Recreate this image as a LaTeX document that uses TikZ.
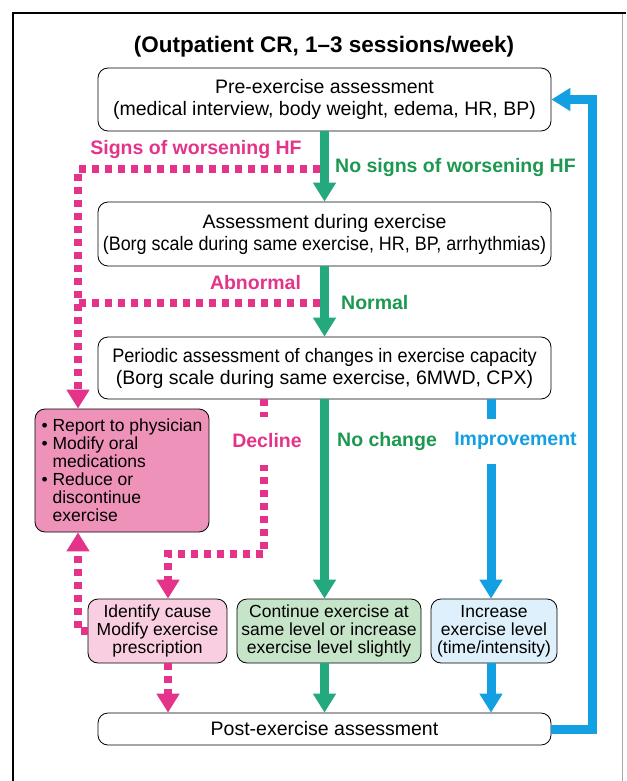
\documentclass[tikz,border=0pt]{standalone}
\usepackage{fontspec}
\setmainfont{Liberation Sans}
\usepackage{graphicx}
\usetikzlibrary{arrows.meta}
\definecolor{hfpink}{RGB}{228,52,138}
\definecolor{hfgreen}{RGB}{36,168,125}
\definecolor{hfgreentext}{RGB}{28,152,80}
\definecolor{hfblue}{RGB}{18,160,226}
\definecolor{reportfill}{RGB}{238,146,185}
\definecolor{causefill}{RGB}{250,206,225}
\definecolor{samefill}{RGB}{198,228,200}
\definecolor{upfill}{RGB}{222,240,251}
\newcommand\narrow[2]{\scalebox{#1}[1]{#2}}

\begin{document}
\begin{tikzpicture}[x=1pt, y=-1pt,
  box/.style={draw, rounded corners=10pt, line width=0.8pt, inner sep=0pt, align=center, font=\fontsize{19.5}{22}\selectfont},
  smallbox/.style={box, font=\fontsize{17.5}{18}\selectfont},
  lbl/.style={font=\bfseries\fontsize{19.5}{22}\selectfont, inner sep=0pt},
  gr/.style={draw=hfgreen, line width=9pt, -{Triangle[width=22pt,length=19pt]}},
  bl/.style={draw=hfblue, line width=9pt, -{Triangle[width=22pt,length=19pt]}},
  pk/.style={draw=hfpink, line width=8pt, dash pattern=on 7pt off 6pt},
  pkar/.style={pk, -{Triangle[width=22pt,length=19pt]}}]
\useasboundingbox (0,0) rectangle (626,781);
\draw[line width=2.5pt] (13,781) -- (13,13) -- (626,13);
\draw[black!35, line width=0.7pt] (622,14) -- (622,781);

\node[lbl, font=\bfseries\fontsize{22.5}{26}\selectfont] (title) at (324,47) {(Outpatient CR, 1–3 sessions/week)};
\node[box, minimum width=453pt, minimum height=63pt] (pre) at (324.5,99.5) {Pre-exercise assessment\\(medical interview, body weight, edema, HR, BP)};
\node[box, minimum width=453pt, minimum height=64pt] (during) at (324.5,234) {Assessment during exercise\\\narrow{0.92}{(Borg scale during same exercise, HR, BP, arrhythmias)}};
\node[box, minimum width=453pt, minimum height=62pt] (periodic) at (324.5,368) {\narrow{0.93}{Periodic assessment of changes in exercise capacity}\\(Borg scale during same exercise, 6MWD, CPX)};
\node[smallbox, fill=reportfill, minimum width=174pt, minimum height=123pt, align=left] (report) at (122,470.5) {• Report to physician\\• Modify oral\\\phantom{• }medications\\• Reduce or\\\phantom{• }discontinue\\\phantom{• }exercise};
\node[smallbox, fill=causefill, minimum width=139pt, minimum height=64pt] (cause) at (157.5,631) {Identify cause\\Modify exercise\\prescription};
\node[smallbox, fill=samefill, minimum width=184pt, minimum height=64pt] (same) at (329,631) {Continue exercise at\\same level or increase\\exercise level slightly};
\node[smallbox, fill=upfill, minimum width=126pt, minimum height=64pt] (up) at (494,631) {Increase\\exercise level\\(time/intensity)};
\node[box, minimum width=453pt, minimum height=32pt] (post) at (324.5,729) {Post-exercise assessment};

\coordinate (hf) at (320,169);
\coordinate (ab) at (320,303);
\coordinate (side) at (78,169);
\coordinate (dec) at (264,554);

\draw[gr] (pre.south) -- (during.north);
\draw[gr] (during.south) -- (periodic.north);
\draw[gr] (periodic.south) -- (periodic.south |- same.north);
\draw[gr] (same.south -| post.north) -- (post.north);
\draw[bl] ([xshift=-3pt]up.north |- periodic.south) -- ([xshift=-3pt]up.north);
\draw[bl] ([xshift=-3pt]up.south) -- ([xshift=-3pt]up.south |- post.north);
\draw[bl] (post.east) -- ++(41,0) |- (pre.east);
\draw[pkar] (hf) -- (side) -- (side |- report.north);
\draw[pk] (ab) -- (ab -| side);
\draw[pkar] (periodic.south -| dec) -- (dec) -| ([xshift=10.5pt]cause.north);
\draw[pkar] (cause.west) -| (side |- report.south);
\draw[pkar] ([xshift=10.5pt]cause.south) -- ([xshift=10.5pt]cause.south |- post.north);

\node[lbl, text=hfpink] (worse) at (196,150) {Signs of worsening HF};
\node[lbl, text=hfgreentext, anchor=west] (noworse) at (335,168) {No signs of worsening HF};
\node[lbl, text=hfpink] (abnormal) at (255.5,283) {Abnormal};
\node[lbl, text=hfgreentext, anchor=west] (normal) at (341,303) {Normal};
\node[lbl, text=hfpink, fill=white, minimum height=48pt] (decline) at (267,441) {Decline};
\node[lbl, text=hfgreentext, anchor=west] (nochange) at (337,441) {No change};
\node[lbl, text=hfblue, fill=white, minimum height=45pt] (improve) at (515.5,441) {Improvement};
\end{tikzpicture}
\end{document}
